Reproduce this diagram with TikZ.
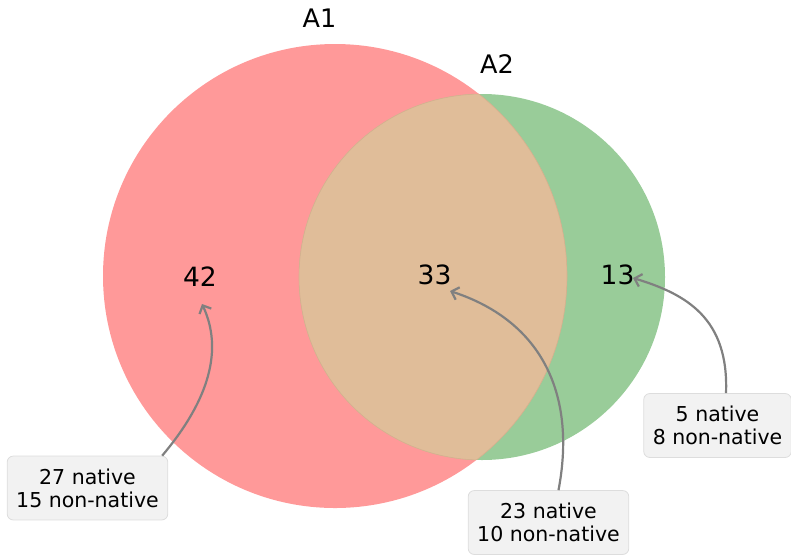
\documentclass[tikz,border=0pt]{standalone}
\usepackage{fontspec}
\setmainfont{DejaVu Sans}
\usetikzlibrary{arrows.meta}
\definecolor{cA}{HTML}{FF9999}
\definecolor{cB}{HTML}{99CC99}
\definecolor{cAB}{HTML}{E0BD99}
\definecolor{cABedge}{HTML}{D6B08E}
\definecolor{boxfill}{HTML}{F2F2F2}
\definecolor{boxedge}{HTML}{DDDDDD}
\definecolor{arr}{HTML}{808080}
\begin{document}
\begin{tikzpicture}[x=1pt,y=-1pt,
  setlabel/.style={font=\fontsize{25.5}{30}\selectfont, inner sep=0pt},
  countlabel/.style={font=\fontsize{26.5}{31}\selectfont, inner sep=0pt},
  notebox/.style={draw=boxedge, fill=boxfill, rounded corners=6pt, align=center,
    font=\fontsize{20.5}{23}\selectfont, inner xsep=9pt, inner ysep=12.5pt, line width=0.8pt},
  pointer/.style={draw=arr, line width=2.2pt, -{Straight Barb[length=6.5pt,width=13pt]}}]
\useasboundingbox (0,0) rectangle (791,555);
% circles
\fill[cA] (335,276) circle[radius=232pt];
\fill[cB] (482,277) circle[radius=183pt];
\begin{scope}
  \clip (335,276) circle[radius=232pt];
  \fill[cAB] (482,277) circle[radius=183pt];
\end{scope}
\begin{scope}
  \clip (335,276) circle[radius=232pt];
  \draw[cABedge, line width=0.6pt] (482,277) circle[radius=183pt];
\end{scope}
\begin{scope}
  \clip (482,277) circle[radius=183pt];
  \draw[cABedge, line width=0.6pt] (335,276) circle[radius=232pt];
\end{scope}
% set labels
\node[setlabel] (lA1) at (319.5,18.5) {A1};
\node[setlabel] (lA2) at (497,64) {A2};
% counts
\node[countlabel] (n42) at (200,277) {42};
\node[countlabel] (n33) at (434.5,275) {33};
\node[countlabel] (n13) at (617.5,275) {13};
% note boxes
\node[notebox] (b1) at (87.5,488) {27 native\\15 non-native};
\node[notebox] (b2) at (548.5,522.5) {23 native\\10 non-native};
\node[notebox] (b3) at (717.5,425.5) {5 native\\8 non-native};
% arrow tips
\coordinate (t1) at (202,304);
\coordinate (t2) at (450,291);
\coordinate (t3) at (633,278);
% pointers
\draw[pointer] ([xshift=-6pt]b1.north east) .. controls (210,399) and (223,349) .. (t1);
\draw[pointer] ([xshift=10pt]b2.north) .. controls (576,398) and (545,322) .. (t2);
\draw[pointer] ([xshift=8.5pt]b3.north) .. controls (729,318) and (686,294) .. (t3);
\end{tikzpicture}
\end{document}
